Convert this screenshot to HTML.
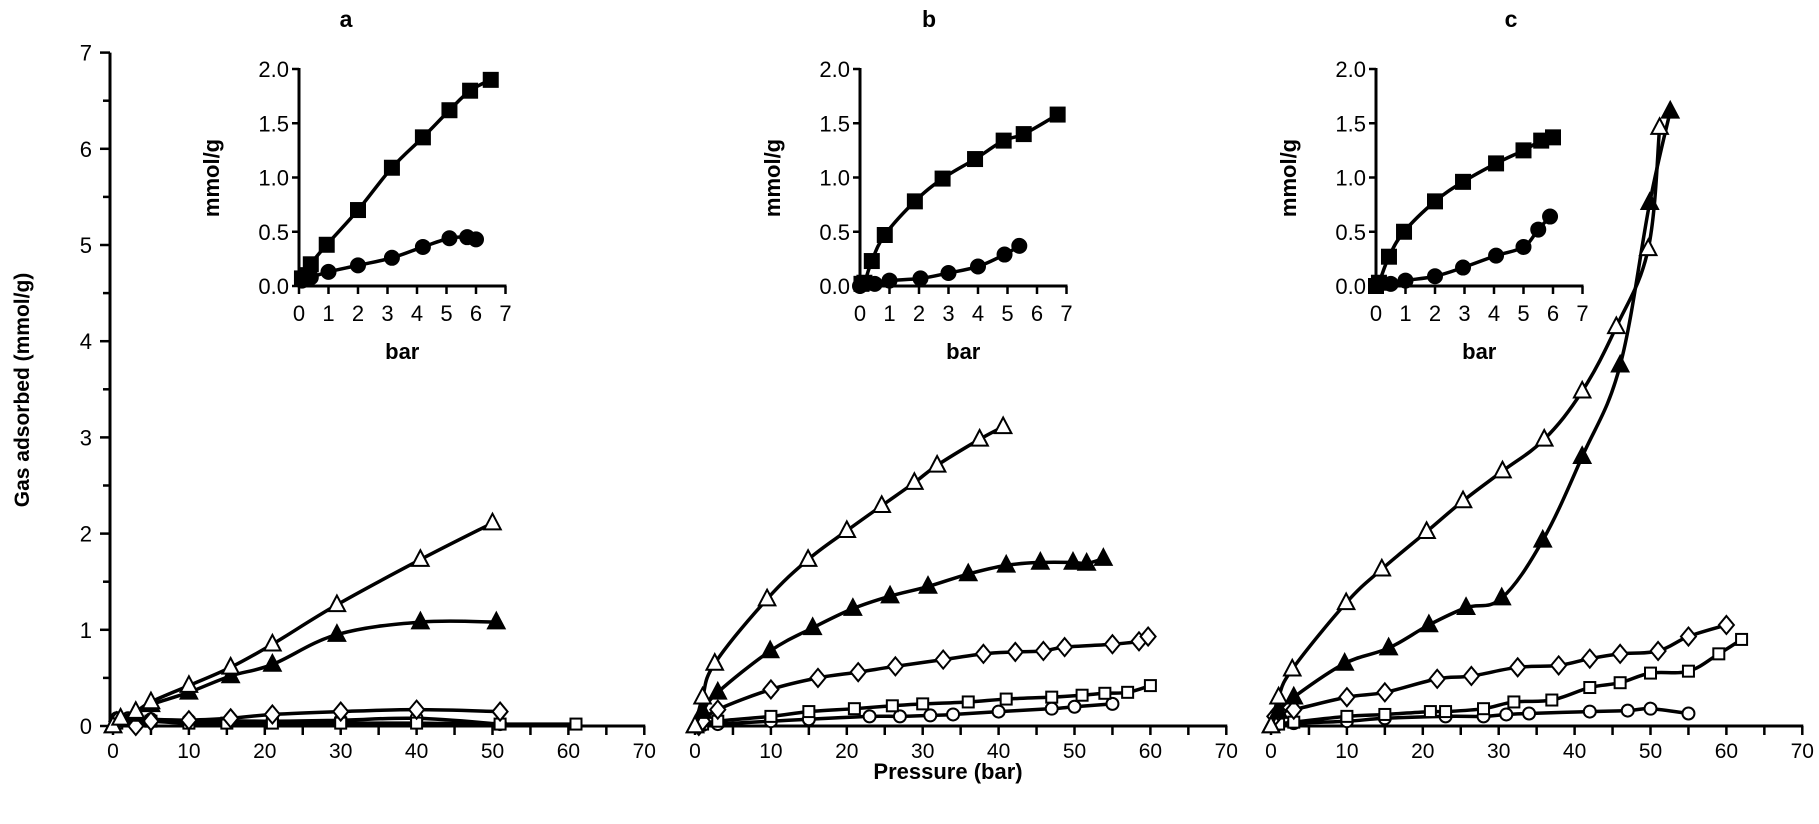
<!DOCTYPE html>
<html><head><meta charset="utf-8"><style>
html,body{margin:0;padding:0;background:#fff;}
svg{display:block;font-family:"Liberation Sans",Arial,sans-serif;}
</style></head><body>
<svg id="chart" width="1819" height="824" viewBox="0 0 1819 824" xmlns="http://www.w3.org/2000/svg"></svg>
<script>
// ---- Main panel data (Pressure bar, mmol/g) ----
const aTriOpenX=[0,1,3,5,10,15.5,21,29.5,40.5,50];
const aTriOpenY=[0,0.08,0.15,0.25,0.42,0.61,0.85,1.26,1.73,2.11];
const aTriFillX=[0,1,3,5,10,15.5,21,29.5,40.5,50.5];
const aTriFillY=[0,0.06,0.12,0.22,0.35,0.52,0.64,0.95,1.08,1.08];
const aDiaX=[0.5,3,5,10,15.5,21,30,40,51];
const aDiaY=[0.05,0,0.05,0.06,0.08,0.12,0.15,0.17,0.15];
const aCirX=[0.5,2,5,10,21,30,40,51];
const aCirY=[0.08,0.08,0.07,0.06,0.05,0.06,0.08,0.02];
const aSqX=[0.5,3,5,10,15,21,30,40,51,61];
const aSqY=[0.03,0.05,0.05,0.03,0.03,0.03,0.03,0.03,0.02,0.02];

const bTriOpenX=[0,1,2.6,9.5,14.9,20,24.6,28.9,31.9,37.5,40.6];
const bTriOpenY=[0,0.3,0.65,1.32,1.73,2.03,2.29,2.53,2.71,2.98,3.11];
const bTriFillX=[0,1,3,9.9,15.5,20.8,25.7,30.7,36,41,45.5,49.8,51.6,53.8];
const bTriFillY=[0,0.15,0.35,0.78,1.02,1.22,1.35,1.45,1.58,1.67,1.7,1.7,1.69,1.74];
const bDiaX=[0.5,1,3,10,16.2,21.5,26.4,32.7,38,42.2,45.9,48.7,55,58.5,59.7];
const bDiaY=[0,0.05,0.17,0.38,0.5,0.56,0.62,0.69,0.75,0.77,0.78,0.82,0.85,0.88,0.93];
const bSqX=[1,3,10,15,21,26,30,36,41,47,51,54,57,60];
const bSqY=[0.02,0.05,0.1,0.15,0.18,0.21,0.23,0.25,0.28,0.3,0.32,0.34,0.35,0.42];
const bCirX=[0.5,1,3,10,15,23,27,31,34,40,47,50,55];
const bCirY=[0,0.01,0.02,0.05,0.07,0.1,0.1,0.11,0.12,0.15,0.18,0.2,0.23];

const cTriOpenX=[0,1,2.8,9.9,14.6,20.5,25.3,30.5,36,41,45.5,49.7,51.2];
const cTriOpenY=[0,0.3,0.59,1.28,1.63,2.02,2.34,2.65,2.98,3.48,4.15,4.96,6.22];
const cTriFillX=[0,1,3,9.7,15.5,20.8,25.7,30.4,35.8,41,46,49.9,52.6];
const cTriFillY=[0,0.15,0.3,0.65,0.81,1.05,1.23,1.33,1.93,2.8,3.75,5.44,6.39];
const cDiaX=[0.5,1,3,10,15,21.9,26.4,32.5,37.9,42,46,51,55,60];
const cDiaY=[0.1,0.15,0.17,0.3,0.35,0.49,0.52,0.61,0.63,0.7,0.75,0.78,0.93,1.05];
const cSqX=[1,3,10,15,21,23,28,32,37,42,46,50,55,59,62];
const cSqY=[0.02,0.04,0.1,0.12,0.15,0.15,0.18,0.25,0.27,0.4,0.45,0.55,0.57,0.75,0.9];
const cCirX=[0.5,1,3,10,15,23,28,31,34,42,47,50,55];
const cCirY=[0,0.02,0.03,0.05,0.08,0.1,0.1,0.12,0.13,0.15,0.16,0.18,0.13];

// ---- Inset data (bar, mmol/g) ----
const aInSqX=[0.1,0.3,0.4,0.94,2,3.15,4.2,5.1,5.8,6.5];
const aInSqY=[0.07,0.1,0.2,0.38,0.7,1.09,1.37,1.62,1.8,1.9];
const aInCirX=[0.1,0.4,1,2,3.15,4.2,5.1,5.7,6];
const aInCirY=[0.05,0.08,0.13,0.19,0.26,0.36,0.44,0.45,0.43];
const bInSqX=[0.05,0.15,0.4,0.84,1.86,2.8,3.9,4.87,5.55,6.7];
const bInSqY=[0.02,0.03,0.23,0.47,0.78,0.99,1.17,1.34,1.4,1.58];
const bInCirX=[0,0.5,1,2.05,3,4,4.9,5.4];
const bInCirY=[0,0.02,0.05,0.07,0.12,0.18,0.29,0.37];
const cInSqX=[0,0.1,0.44,0.95,2,2.95,4.07,5,5.6,6];
const cInSqY=[0,0.03,0.27,0.5,0.78,0.96,1.13,1.25,1.34,1.37];
const cInCirX=[0,0.5,1,2,2.95,4.07,5,5.5,5.9];
const cInCirY=[0,0.02,0.05,0.09,0.17,0.28,0.36,0.52,0.64];

const mainXTicks=[0,10,20,30,40,50,60,70];
const mainYTicks=[0,1,2,3,4,5,6,7];
const insetXTicks=[0,1,2,3,4,5,6,7];
const insetYTicks=["0.0","0.5","1.0","1.5","2.0"];
const panelTitles=["a","b","c"];

const NS="http://www.w3.org/2000/svg";
const svg=document.getElementById('chart');
function mk(tag,attrs,parent){const e=document.createElementNS(NS,tag);for(const k in attrs)e.setAttribute(k,attrs[k]);(parent||svg).appendChild(e);return e;}

const Y0=726, YU=96.2;
const mainY=v=>Y0-v*YU;
const panels=[{x0:113,inX0:299,title:346},{x0:695,inX0:860,title:929},{x0:1271,inX0:1376,title:1511}];
const XU=7.59;
const IY0=286, IYU=108.5, IXU=29.5;

function smoothPath(pts){
  if(pts.length<2)return "";
  let d="M"+pts[0][0]+","+pts[0][1];
  for(let i=0;i<pts.length-1;i++){
    const p0=pts[i-1]||pts[i],p1=pts[i],p2=pts[i+1],p3=pts[i+2]||p2;
    const t=0.18;
    const c1=[p1[0]+(p2[0]-p0[0])*t,p1[1]+(p2[1]-p0[1])*t];
    const c2=[p2[0]-(p3[0]-p1[0])*t,p2[1]-(p3[1]-p1[1])*t];
    d+=" C"+c1[0]+","+c1[1]+" "+c2[0]+","+c2[1]+" "+p2[0]+","+p2[1];
  }
  return d;
}
function marker(g,type,x,y,s){
  let e;
  if(type==="triOpen"||type==="triFill"){
    e=mk('polygon',{points:`${x},${y-s*0.62} ${x-s*0.55},${y+s*0.42} ${x+s*0.55},${y+s*0.42}`,fill:type==="triFill"?"#000":"#fff",stroke:"#000","stroke-width":2},g);
  }else if(type==="dia"){
    e=mk('polygon',{points:`${x},${y-s*0.6} ${x+s*0.5},${y} ${x},${y+s*0.6} ${x-s*0.5},${y}`,fill:"#fff",stroke:"#000","stroke-width":2},g);
  }else if(type==="sq"||type==="sqFill"){
    e=mk('rect',{x:x-s/2,y:y-s/2,width:s,height:s,fill:type==="sqFill"?"#000":"#fff",stroke:"#000","stroke-width":2},g);
  }else{
    e=mk('circle',{cx:x,cy:y,r:s/2,fill:type==="cirFill"?"#000":"#fff",stroke:"#000","stroke-width":2},g);
  }
  
  
}
function series(name,xs,ys,sx,sy,type,size,lw){
  const g=mk('g',{});
  
  
  const pts=xs.map((x,i)=>[sx(x),sy(ys[i])]);
  mk('path',{d:smoothPath(pts),fill:"none",stroke:"#000","stroke-width":lw,"stroke-linejoin":"round"},g);
  pts.forEach(p=>marker(g,type,p[0],p[1],size));
}
function txt(s,x,y,attrs,name){
  const t=mk('text',Object.assign({x:x,y:y,fill:"#000"},attrs));
  t.textContent=s;
  
  
  return t;
}

// main y-axis (panel a only)
const yAxis=mk('line',{x1:110,y1:mainY(7),x2:110,y2:Y0+1,stroke:"#000","stroke-width":3});


for(let v=0;v<=7;v+=0.5){
  const maj=Number.isInteger(v);
  mk('line',{x1:maj?100:103,y1:mainY(v),x2:110,y2:mainY(v),stroke:"#000","stroke-width":2.5});
}
mainYTicks.forEach(v=>txt(String(v),92,mainY(v)+8,{"font-size":22,"text-anchor":"end"},'y-tick-label'));
txt("Gas adsorbed (mmol/g)",0,0,{"font-size":21,"font-weight":"bold","text-anchor":"middle",transform:"translate(29,390) rotate(-90)"},'y-axis-title');
txt("Pressure (bar)",948,779,{"font-size":22,"font-weight":"bold","text-anchor":"middle"},'x-axis-title');

const data=[
 [aTriOpenX,aTriOpenY,aTriFillX,aTriFillY,aDiaX,aDiaY,aSqX,aSqY,aCirX,aCirY,aInSqX,aInSqY,aInCirX,aInCirY],
 [bTriOpenX,bTriOpenY,bTriFillX,bTriFillY,bDiaX,bDiaY,bSqX,bSqY,bCirX,bCirY,bInSqX,bInSqY,bInCirX,bInCirY],
 [cTriOpenX,cTriOpenY,cTriFillX,cTriFillY,cDiaX,cDiaY,cSqX,cSqY,cCirX,cCirY,cInSqX,cInSqY,cInCirX,cInCirY]
];

panels.forEach((p,pi)=>{
  const sx=v=>p.x0+v*XU;
  const L=panelTitles[pi];
  txt(L,p.title,27,{"font-size":23,"font-weight":"bold","text-anchor":"middle"},'panel-title-'+L);
  const ax=mk('line',{x1:pi===0?109:p.x0-3,y1:Y0,x2:sx(70)+1,y2:Y0,stroke:"#000","stroke-width":3});
  
  
  for(let v=0;v<=70;v+=5){ mk('line',{x1:sx(v),y1:Y0,x2:sx(v),y2:Y0+9,stroke:"#000","stroke-width":2.5}); }
  mainXTicks.forEach(v=>txt(String(v),sx(v),758,{"font-size":21,"text-anchor":"middle"},'x-tick-label-'+L));
  const d=data[pi];
  series('series-'+L+'-circle-open',d[8],d[9],sx,mainY,"cir",12,3.5);
  series('series-'+L+'-square-open',d[6],d[7],sx,mainY,"sq",11,3.5);
  series('series-'+L+'-diamond-open',d[4],d[5],sx,mainY,"dia",15,3.5);
  series('series-'+L+'-triangle-filled',d[2],d[3],sx,mainY,"triFill",15,3.5);
  series('series-'+L+'-triangle-open',d[0],d[1],sx,mainY,"triOpen",15,3.5);

  // inset
  const ix=v=>p.inX0+v*IXU, iy=v=>IY0-v*IYU;
  const ia=mk('line',{x1:p.inX0,y1:iy(2)-1,x2:p.inX0,y2:IY0+1,stroke:"#000","stroke-width":3});
  
  
  const ib=mk('line',{x1:p.inX0-1,y1:IY0,x2:ix(7)+1,y2:IY0,stroke:"#000","stroke-width":3});
  
  
  insetYTicks.forEach(s=>{const v=parseFloat(s);mk('line',{x1:p.inX0-7,y1:iy(v),x2:p.inX0,y2:iy(v),stroke:"#000","stroke-width":2.5});txt(s,p.inX0-10,iy(v)+8,{"font-size":22,"text-anchor":"end"},'inset-y-tick-label-'+L);});
  insetXTicks.forEach(v=>{mk('line',{x1:ix(v),y1:IY0,x2:ix(v),y2:IY0+8,stroke:"#000","stroke-width":2.5});txt(String(v),ix(v),321,{"font-size":22,"text-anchor":"middle"},'inset-x-tick-label-'+L);});
  txt("bar",ix(3.5),359,{"font-size":22,"font-weight":"bold","text-anchor":"middle"},'inset-x-title-'+L);
  txt("mmol/g",0,0,{"font-size":22,"font-weight":"bold","text-anchor":"middle",transform:`translate(${p.inX0-80},178) rotate(-90)`},'inset-y-title-'+L);
  series('inset-'+L+'-square-filled',d[10],d[11],ix,iy,"sqFill",14,3.5);
  series('inset-'+L+'-circle-filled',d[12],d[13],ix,iy,"cirFill",14,3.5);
});
</script>
</body></html>
